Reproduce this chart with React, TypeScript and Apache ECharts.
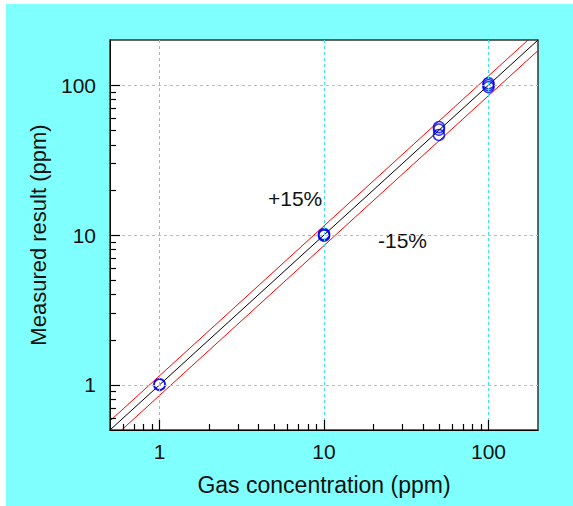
import React, { useEffect, useRef } from "react";
import * as echarts from "echarts";

const xPoints = [1, 1, 10, 10, 10, 50, 50, 50, 100, 100, 100];
const yPoints = [1.0, 1.01, 10.0, 10.15, 9.9, 52.5, 50.5, 46.5, 103, 100, 97];
const lineX = [0.5, 200];
const majorTicks = [1, 10, 100];
const minorTicks = [0.6, 0.7, 0.8, 0.9, 2, 3, 4, 5, 6, 7, 8, 9, 20, 30, 40, 50, 60, 70, 80, 90];
const upperFactor = 1.15;
const lowerFactor = 0.85;

export default function App() {
  const ref = useRef<HTMLDivElement>(null);
  useEffect(() => {
    document.body.style.margin = "0";
    const chart = echarts.init(ref.current!, null, { renderer: "svg" });
    const font = "'Liberation Sans', Arial, sans-serif";
    const mkAxis = (major: boolean, isX: boolean) => ({
      type: "log", min: 0.5, max: 200, logBase: 10,
      position: isX ? "bottom" : "left",
      z: 10,
      ...(major
        ? {
            name: isX ? "Gas concentration (ppm)" : "Measured result (ppm)",
            nameLocation: "middle", nameGap: isX ? 43 : 61,
            nameTextStyle: { fontSize: isX ? 23 : 22, fontFamily: font, color: "#111" },
          }
        : {}),
      axisLine: { show: major, lineStyle: { color: "#000" } },
      axisTick: { show: true, inside: true, length: major ? 10 : 6, customValues: major ? majorTicks : minorTicks, lineStyle: { color: "#000", width: 1.2 } },
      splitLine: { show: major, lineStyle: { color: isX ? "#40e0f0" : "#bbbbbb", type: [3, 3] } },
      axisLabel: major
        ? { fontSize: 21, fontFamily: font, color: "#111", margin: isX ? 11 : 14, customValues: majorTicks, formatter: (v: number) => String(v) }
        : { show: false },
    });
    const cyan = "#80ffff";
    chart.setOption({
      animation: false,
      backgroundColor: "#ffffff",
      graphic: [
        { type: "rect", z: -10, shape: { x: 6, y: 4, width: 573, height: 36 }, style: { fill: cyan } },
        { type: "rect", z: -10, shape: { x: 6, y: 430, width: 573, height: 80 }, style: { fill: cyan } },
        { type: "rect", z: -10, shape: { x: 6, y: 4, width: 104, height: 506 }, style: { fill: cyan } },
        { type: "rect", z: -10, shape: { x: 538, y: 4, width: 40, height: 506 }, style: { fill: cyan } },
        { type: "text", left: 268, top: 188, style: { text: "+15%", fontSize: 21, fontFamily: font, fill: "#111" } },
        { type: "text", left: 378, top: 230, style: { text: "-15%", fontSize: 21, fontFamily: font, fill: "#111" } },
      ],
      grid: { left: 110, right: 35, top: 40, bottom: 76, show: true, borderColor: "#333", borderWidth: 1.5 },
      xAxis: [mkAxis(true, true), mkAxis(false, true)],
      yAxis: [mkAxis(true, false), mkAxis(false, false)],
      series: [
        { type: "line", data: lineX.map((x) => [x, x * upperFactor]), symbol: "none", lineStyle: { color: "#ff0000", width: 1 }, z: 2 },
        { type: "line", data: lineX.map((x) => [x, x * lowerFactor]), symbol: "none", lineStyle: { color: "#ff0000", width: 1 }, z: 2 },
        { type: "line", data: lineX.map((x) => [x, x]), symbol: "none", lineStyle: { color: "#000000", width: 1 }, z: 2 },
        {
          type: "scatter", z: 6, data: xPoints.map((x, i) => [x, yPoints[i]]),
          symbol: "circle", symbolSize: 11,
          itemStyle: { color: "transparent", borderColor: "#0000ee", borderWidth: 1.5 },
        },
      ],
    });
    return () => chart.dispose();
  }, []);
  return <div ref={ref} style={{ width: 573, height: 506 }} />;
}
